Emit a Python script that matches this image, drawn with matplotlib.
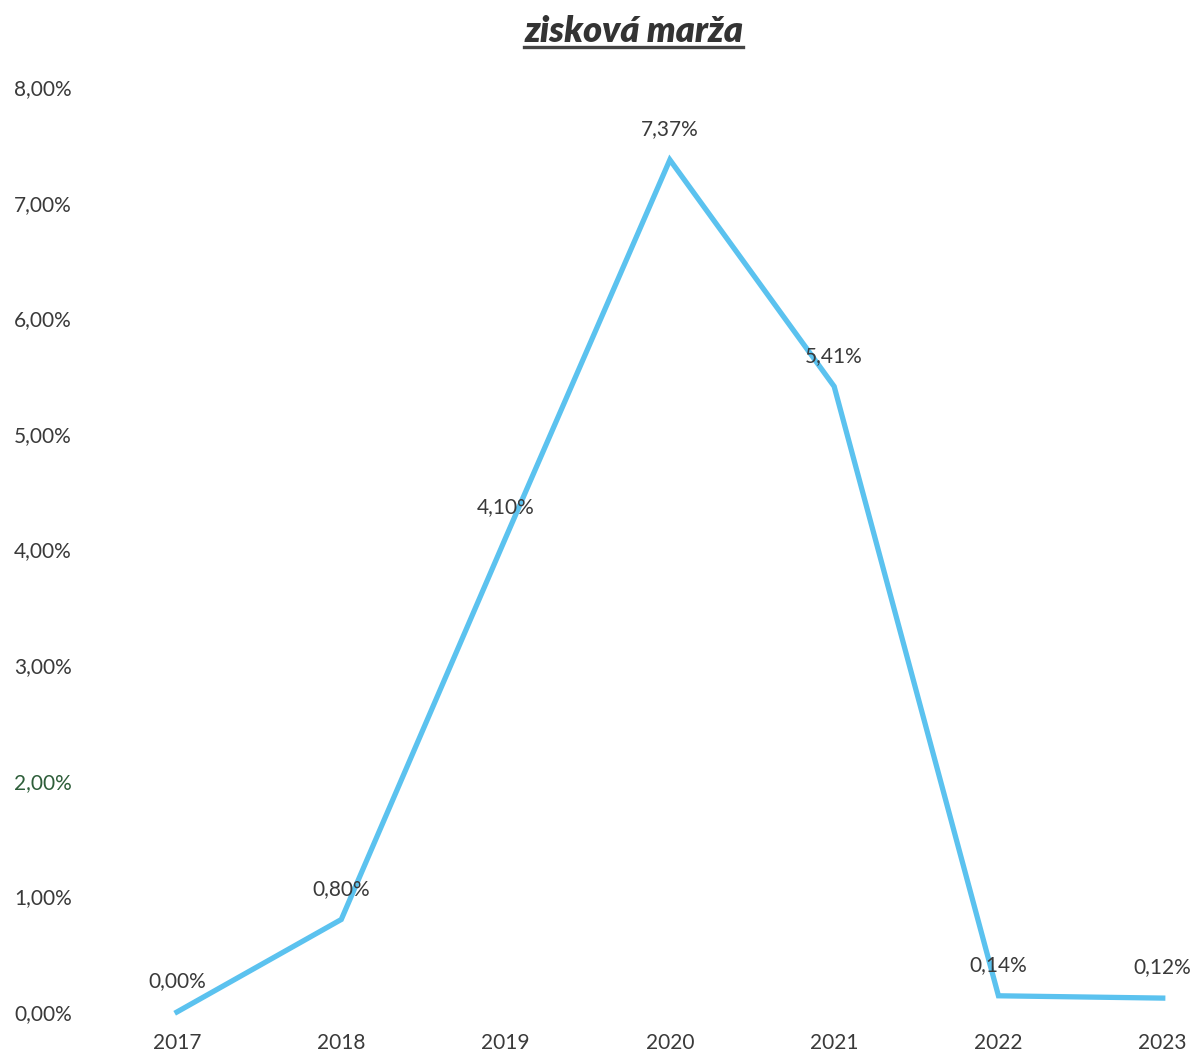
import matplotlib
matplotlib.use("Agg")
import matplotlib.pyplot as plt
from matplotlib.lines import Line2D

years = ["2017", "2018", "2019", "2020", "2021", "2022", "2023"]
margin = [0.00, 0.80, 4.10, 7.37, 5.41, 0.14, 0.12]
point_labels = ["0,00%", "0,80%", "4,10%", "7,37%", "5,41%", "0,14%", "0,12%"]
y_ticks = [0, 1, 2, 3, 4, 5, 6, 7, 8]
y_tick_labels = ["0,00%", "1,00%", "2,00%", "3,00%", "4,00%",
                 "5,00%", "6,00%", "7,00%", "8,00%"]

plt.rcParams["font.family"] = ["Lato", "DejaVu Sans"]
TXT = "#3a3a3a"
LINE = "#5bc2ef"

fig = plt.figure(figsize=(11.98, 10.58), dpi=100)
ax = fig.add_axes([0.1203, 0.0435, 0.8777, 0.8743])

xs = list(range(len(years)))
ax.plot(xs, margin, color=LINE, lw=3.8, solid_joinstyle="miter", clip_on=False)
for x, y, lbl in zip(xs, margin, point_labels):
    ax.annotate(lbl, (x, y), xytext=(0, 22), textcoords="offset points",
                ha="center", va="center", fontsize=15, color=TXT)

ax.set_xlim(-0.2, 6.2)
ax.set_ylim(0, 8)
ax.set_xticks(xs, years)
ax.set_yticks(y_ticks, y_tick_labels)
ax.tick_params(length=0, labelsize=15, colors=TXT)
ax.tick_params(axis="x", pad=15)
ax.tick_params(axis="y", pad=52)
ax.get_yticklabels()[2].set_color("#2e5e3a")
for s in ax.spines.values():
    s.set_visible(False)

# title, underlined
t = fig.text(0.529, 0.970, "zisková marža", ha="center", va="center",
             fontsize=26, fontweight="heavy", fontstyle="italic", color="#333333")
fig.canvas.draw()
bb = t.get_window_extent().transformed(fig.transFigure.inverted())
fig.add_artist(Line2D([bb.x0, bb.x1], [bb.y0 + 0.001, bb.y0 + 0.001],
                      transform=fig.transFigure, color="#444444", lw=2.4))

fig.savefig("out.png", dpi=100)
